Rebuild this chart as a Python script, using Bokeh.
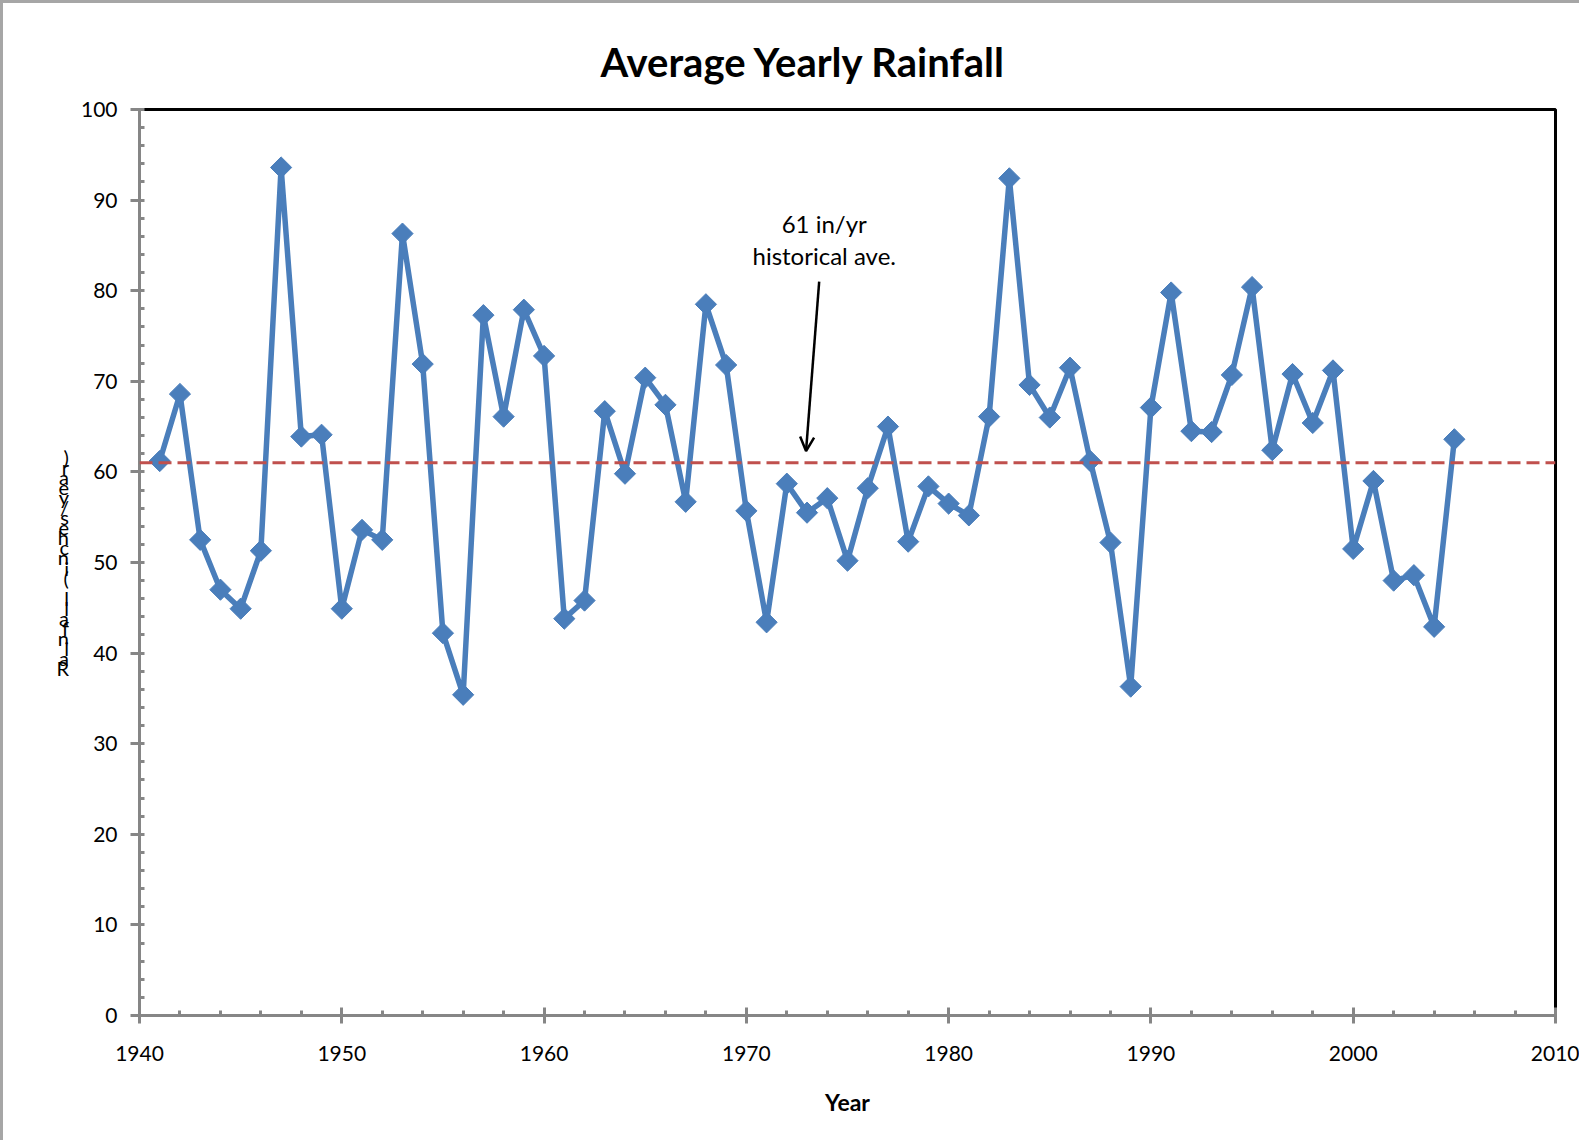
import numpy as np
from bokeh.plotting import figure
from bokeh.models import (Range1d, SingleIntervalTicker, Span, Arrow, OpenHead,
                          Label, ColumnDataSource, Title)
from bokeh.embed import file_html
from bokeh.resources import INLINE

# ---- data ----
years = list(range(1941, 2006))
rainfall = [61.2, 68.6, 52.5, 47.0, 44.9, 51.3, 93.6, 63.9, 64.1, 44.9,
            53.6, 52.5, 86.3, 71.9, 42.2, 35.4, 77.3, 66.1, 77.9, 72.8,
            43.8, 45.8, 66.7, 59.8, 70.4, 67.4, 56.7, 78.5, 71.8, 55.7,
            43.4, 58.7, 55.5, 57.1, 50.2, 58.2, 65.0, 52.3, 58.4, 56.5,
            55.2, 66.1, 92.4, 69.6, 66.0, 71.5, 61.2, 52.2, 36.3, 67.1,
            79.8, 64.5, 64.4, 70.7, 80.4, 62.4, 70.8, 65.4, 71.2, 51.5,
            59.0, 48.0, 48.6, 42.9, 63.6]
historical_avg = 61
annotation_lines = ["61 in/yr", "historical ave."]
annotation_pos = (1973.85, 82.3)
arrow_from = (1973.6, 81.0)
arrow_to = (1972.95, 62.3)
title_text = "Average Yearly Rainfall"
x_label = "Year"
y_label = "Rainfall (inches/year)"

FONT = "Lato"
BLUE = "#4A7EBB"
GREY = "#868686"

p = figure(width=1579, height=1140, output_backend="svg", toolbar_location=None,
           x_range=Range1d(1940, 2010), y_range=Range1d(0, 100),
           min_border_left=136, min_border_right=27, min_border_top=106,
           min_border_bottom=128,
           styles={"border-top": "3px solid #A6A6A6",
                   "border-left": "3px solid #A6A6A6"})
p.title = Title(text=title_text, align="left", text_font=FONT,
                text_font_size="40px", text_font_style="bold", offset=461,
                standoff=48, text_color="black")

p.xgrid.visible = False
p.ygrid.visible = False
p.outline_line_color = "black"
p.outline_line_width = 3

for ax in (p.xaxis[0], p.yaxis[0]):
    ax.ticker = SingleIntervalTicker(interval=10, num_minor_ticks=5)
    ax.axis_line_color = GREY
    ax.axis_line_width = 3
    ax.major_tick_line_color = GREY
    ax.major_tick_line_width = 3
    ax.minor_tick_line_color = GREY
    ax.minor_tick_line_width = 3
    ax.minor_tick_in = 5
    ax.minor_tick_out = 0
    ax.major_label_text_font = FONT
    ax.major_label_text_font_size = "21px"
    ax.major_label_text_color = "black"
    ax.axis_label_text_color = "black"
    ax.axis_label_text_font = FONT

p.xaxis.major_tick_in = 8
p.xaxis.major_tick_out = 8
p.xaxis.major_label_standoff = 22
p.xaxis.axis_label = x_label
p.xaxis.axis_label_text_font_size = "23px"
p.xaxis.axis_label_text_font_style = "bold"
p.xaxis.axis_label_standoff = 24

p.yaxis.major_tick_in = 4
p.yaxis.major_tick_out = 9
p.yaxis.major_label_standoff = 13
p.yaxis.axis_label = "\n".join(reversed(y_label))
p.yaxis.axis_label_orientation = "horizontal"
p.yaxis.axis_label_text_font_size = "20px"
p.yaxis.axis_label_text_font_style = "normal"
p.yaxis.axis_label_text_line_height = 0.42
p.yaxis.axis_label_standoff = 9

# average line
p.add_layout(Span(location=historical_avg, dimension="width", line_color="#C0504D",
                  line_width=3, line_dash="13 6"))

src = ColumnDataSource(dict(x=years, y=rainfall))
p.line("x", "y", source=src, line_color=BLUE, line_width=5.5)
p.scatter("x", "y", source=src, marker="square", angle=np.pi / 4, size=15,
          fill_color=BLUE, line_color=BLUE)

# annotation
p.add_layout(Arrow(end=OpenHead(size=14, line_width=2.5, line_color="black"),
                   x_start=arrow_from[0], y_start=arrow_from[1],
                   x_end=arrow_to[0], y_end=arrow_to[1],
                   line_width=2.5, line_color="black"))
p.add_layout(Label(x=annotation_pos[0], y=annotation_pos[1],
                   text="\n".join(annotation_lines),
                   text_align="center", text_baseline="bottom",
                   text_font=FONT, text_font_size="24px", text_color="black",
                   text_line_height=1.1))

open("out.html", "w").write(file_html(p, INLINE))
